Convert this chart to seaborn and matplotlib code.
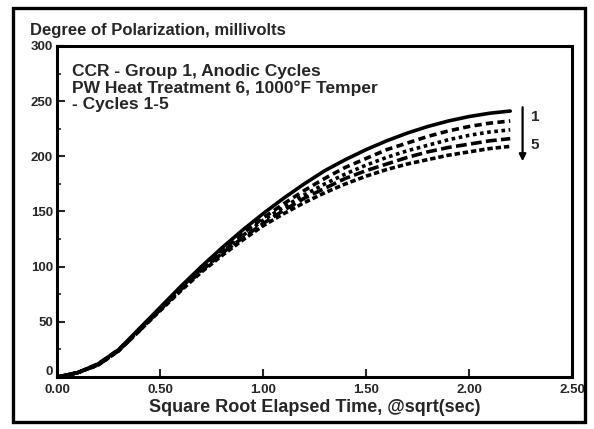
import numpy as np
import pandas as pd
import seaborn as sns
import matplotlib.pyplot as plt
from matplotlib.patches import Rectangle
from matplotlib.transforms import ScaledTranslation

# square root elapsed time and polarization for cycles 1-5
sqrt_time = [0, 0.1, 0.2, 0.3, 0.4, 0.5, 0.6, 0.7, 0.8, 0.9, 1.0, 1.1,
             1.2, 1.3, 1.4, 1.5, 1.6, 1.7, 1.8, 1.9, 2.0, 2.1, 2.2]
cycle_1 = [0, 4, 12, 25, 44, 63, 82, 100, 117, 133, 148, 162,
           175, 187, 197, 206, 214, 221, 227, 232, 236, 239, 241]
cycle_2 = [0, 4, 12, 25, 43, 62, 81, 98, 115, 130, 144, 157,
           169, 180, 190, 198, 206, 212, 218, 223, 227, 230, 232]
cycle_3 = [0, 4, 11, 24, 43, 61, 80, 97, 113, 128, 142, 154,
           165, 175, 184, 192, 199, 205, 210, 215, 219, 222, 224]
cycle_4 = [0, 4, 11, 24, 42, 61, 79, 96, 112, 126, 139, 151,
           162, 171, 180, 187, 193, 199, 204, 208, 211, 214, 216]
cycle_5 = [0, 4, 11, 24, 42, 60, 78, 95, 110, 124, 137, 148,
           158, 167, 175, 182, 188, 193, 197, 201, 204, 207, 209]

cycles = {"1": cycle_1, "2": cycle_2, "3": cycle_3, "4": cycle_4, "5": cycle_5}
styles = {"1": "-", "2": (0, (2, 1.2)), "3": (0, (1, 1)), "4": (0, (3, 1.2)), "5": (0, (1.5, 0.8))}

df = pd.concat([pd.DataFrame({"t": sqrt_time, "mv": v, "cycle": k})
                for k, v in cycles.items()], ignore_index=True)

sns.set_style("ticks")
plt.rcParams['font.family'] = ['Liberation Sans', 'DejaVu Sans']
plt.rcParams['font.weight'] = 'bold'

fig = plt.figure(figsize=(5.94, 4.29), dpi=100)
ax = fig.add_axes([0.096, 0.121, 0.867, 0.772])

for k in cycles:
    sub = df[df.cycle == k]
    sns.lineplot(data=sub, x="t", y="mv", color="black", lw=2.6,
                 linestyle=styles[k], ax=ax, legend=False)

ax.set_xlim(0, 2.5)
ax.set_ylim(0, 300)
ax.set_xticks(np.arange(0, 2.51, 0.5))
ax.set_xticklabels([f"{v:.2f}" for v in np.arange(0, 2.51, 0.5)])
ax.set_yticks(np.arange(0, 301, 50))
ax.set_yticks(np.arange(0, 301, 25), minor=True)
ax.tick_params(axis='both', which='major', direction='in', length=6, width=1.5,
               labelsize=9.5, top=False, right=False, pad=3)
ax.tick_params(axis='x', pad=5)
ax.tick_params(axis='y', which='minor', direction='in', length=3, width=1.2)
for s in ax.spines.values():
    s.set_linewidth(2.2)
    s.set_color("black")
ax.set_xlabel("Square Root Elapsed Time, @sqrt(sec)", fontsize=13, fontweight='bold', labelpad=2)
ax.set_ylabel("")

# the corner "0" sits above "0.00" like in the original
zero_lbl = ax.get_yticklabels()[0]
zero_lbl.set_transform(zero_lbl.get_transform() + ScaledTranslation(0, 5 / 72, fig.dpi_scale_trans))

fig.text(0.05, 0.93, "Degree of Polarization, millivolts", fontsize=12, fontweight='bold', va='center')

ax.text(0.03, 0.945, "CCR - Group 1, Anodic Cycles\nPW Heat Treatment 6, 1000°F Temper\n- Cycles 1-5",
        transform=ax.transAxes, fontsize=12.5, fontweight='bold', va='top', linespacing=1.1)

# arrow from cycle 1 down to cycle 5
ax.annotate("", xy=(2.26, 193), xytext=(2.26, 247),
            arrowprops=dict(arrowstyle="-|>", color="black", lw=1.6, mutation_scale=10))
ax.text(2.3, 236, "1", fontsize=11, fontweight='bold', va='center')
ax.text(2.3, 210, "5", fontsize=11, fontweight='bold', va='center')

fig.add_artist(Rectangle((13 / 594, 1 - 422 / 429), 572 / 594, 414 / 429,
                         transform=fig.transFigure, fill=False, lw=2.4, color="black"))

fig.savefig("out.png", dpi=100)
